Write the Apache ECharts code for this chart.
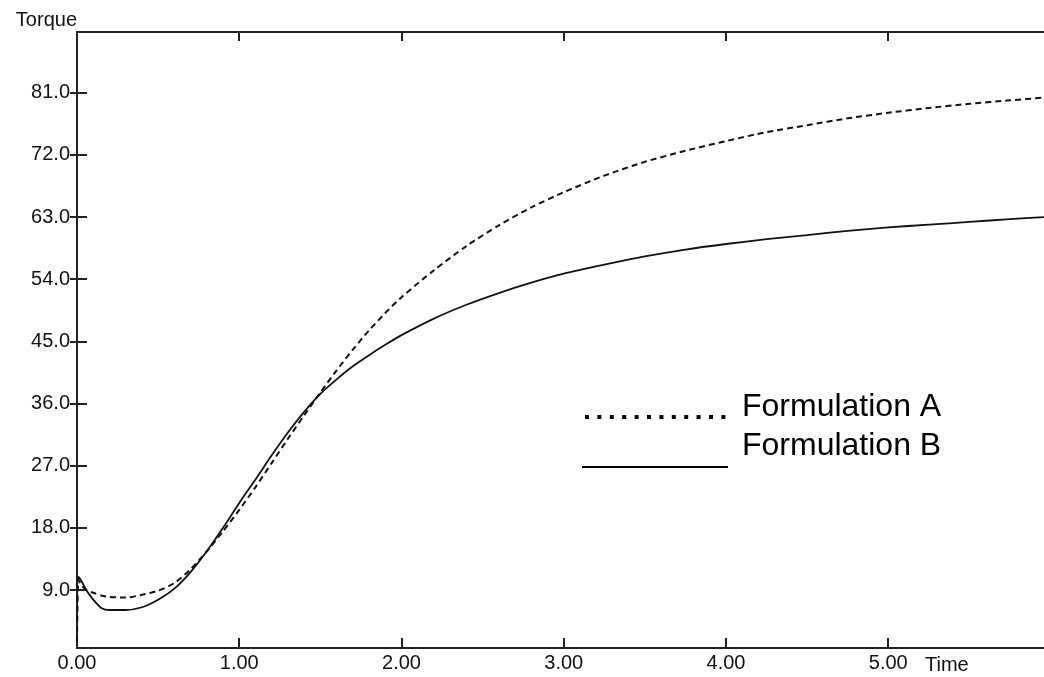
<!DOCTYPE html>
<html>
<head>
    <meta charset="utf-8" />
    <title>Torque vs Time</title>
    <script src="https://cdn.jsdelivr.net/npm/echarts@6/dist/echarts.min.js"></script>
    <style>
        html, body { margin: 0; padding: 0; background: #fff; }
        #container { width: 1044px; height: 677px; }
    </style>
</head>
<body>
    <div id="container"></div>
    <script>
        // time points (x axis)
        var times = [0, 0.01, 0.03, 0.06, 0.1, 0.15, 0.2, 0.3, 0.4, 0.5, 0.6, 0.7, 0.8, 0.9,
            1.0, 1.1, 1.2, 1.3, 1.4, 1.5, 1.6, 1.7, 1.8, 1.9, 2.0, 2.2, 2.4, 2.6, 2.8, 3.0,
            3.25, 3.5, 3.75, 4.0, 4.25, 4.5, 4.75, 5.0, 5.25, 5.5, 5.75, 5.96];

        // Formulation A (dashed)
        var formulationA = [1.5, 10.5, 9.6, 9.0, 8.6, 8.2, 8.0, 7.9, 8.3, 8.9, 10.0, 12.0, 14.6, 17.5,
            20.6, 23.9, 27.4, 30.9, 34.3, 37.6, 40.8, 43.8, 46.6, 49.1, 51.4, 55.3, 58.8, 61.8, 64.4, 66.6,
            69.0, 71.0, 72.6, 74.0, 75.3, 76.3, 77.3, 78.1, 78.8, 79.4, 79.9, 80.3];

        // Formulation B (solid)
        var formulationB = [9.5, 10.9, 10.2, 8.9, 7.6, 6.4, 6.1, 6.1, 6.5, 7.6, 9.2, 11.6, 14.6, 18.0,
            21.6, 25.0, 28.5, 31.8, 34.8, 37.4, 39.5, 41.4, 43.0, 44.5, 45.9, 48.3, 50.3, 52.0, 53.5, 54.8,
            56.1, 57.3, 58.3, 59.1, 59.8, 60.4, 61.0, 61.5, 61.9, 62.3, 62.7, 63.0];

        var xTicks = [0, 1, 2, 3, 4, 5];
        var yTicks = [9, 18, 27, 36, 45, 54, 63, 72, 81];

        function pairs(vals) {
            return times.map(function (t, i) { return [t, vals[i]]; });
        }

        var font = '"Liberation Sans", Arial, sans-serif';
        var axisColor = '#222';

        var myChart = echarts.init(document.getElementById('container'));
        var option = {
            animation: false,
            backgroundColor: '#fff',
            grid: { left: 77, right: 0, top: 32, bottom: 29 },
            xAxis: [
                {
                    type: 'value', position: 'bottom', min: 0, max: 5.96,
                    axisLine: { lineStyle: { color: axisColor, width: 2 } },
                    axisTick: { inside: true, length: 10, customValues: xTicks, lineStyle: { color: axisColor, width: 2 } },
                    axisLabel: {
                        customValues: xTicks, margin: 5, fontSize: 20, color: '#111', fontFamily: font,
                        formatter: function (v) { return v.toFixed(2); }
                    },
                    splitLine: { show: false }
                },
                {
                    type: 'value', position: 'top', min: 0, max: 5.96,
                    axisLine: { lineStyle: { color: axisColor, width: 2 } },
                    axisTick: { inside: true, length: 9, customValues: xTicks, lineStyle: { color: axisColor, width: 2 } },
                    axisLabel: { show: false },
                    splitLine: { show: false }
                }
            ],
            yAxis: [
                {
                    type: 'value', position: 'left', min: 0.6, max: 89.8,
                    name: 'Torque', nameLocation: 'end', nameGap: 2,
                    nameTextStyle: { fontSize: 20, color: '#111', fontFamily: font, align: 'right', verticalAlign: 'bottom' },
                    axisLine: { show: true, lineStyle: { color: axisColor, width: 2 } },
                    axisTick: { show: true, inside: true, length: 10, customValues: yTicks, lineStyle: { color: axisColor, width: 2 } },
                    axisLabel: {
                        customValues: yTicks, margin: 7, fontSize: 20, color: '#111', fontFamily: font,
                        formatter: function (v) { return v.toFixed(1); }
                    },
                    splitLine: { show: false }
                },
                {
                    type: 'value', position: 'right', min: 0.6, max: 89.8,
                    axisLine: { show: false },
                    axisTick: { show: true, inside: true, length: 7, customValues: yTicks, lineStyle: { color: axisColor, width: 2 } },
                    axisLabel: { show: false },
                    splitLine: { show: false }
                }
            ],
            series: [
                {
                    name: 'Formulation A', type: 'line', data: pairs(formulationA),
                    symbol: 'none', smooth: 0.25,
                    lineStyle: { color: '#111', width: 2, type: [6, 4] }
                },
                {
                    name: 'Formulation B', type: 'line', data: pairs(formulationB),
                    symbol: 'none', smooth: 0.25,
                    lineStyle: { color: '#111', width: 1.8 }
                }
            ],
            graphic: [
                { type: 'line', shape: { x1: 585, y1: 417, x2: 727, y2: 417 },
                  style: { stroke: '#000', lineWidth: 4, lineDash: [4, 8.4] } },
                { type: 'text', x: 742, y: 407,
                  style: { text: 'Formulation A', font: '32px ' + font, fill: '#000', verticalAlign: 'middle' } },
                { type: 'line', shape: { x1: 582, y1: 467, x2: 728, y2: 467 },
                  style: { stroke: '#000', lineWidth: 2 } },
                { type: 'text', x: 742, y: 446,
                  style: { text: 'Formulation B', font: '32px ' + font, fill: '#000', verticalAlign: 'middle' } },
                { type: 'text', x: 925, y: 665,
                  style: { text: 'Time', font: '20px ' + font, fill: '#111', verticalAlign: 'middle' } }
            ]
        };
        myChart.setOption(option);
    </script>
</body>
</html>
